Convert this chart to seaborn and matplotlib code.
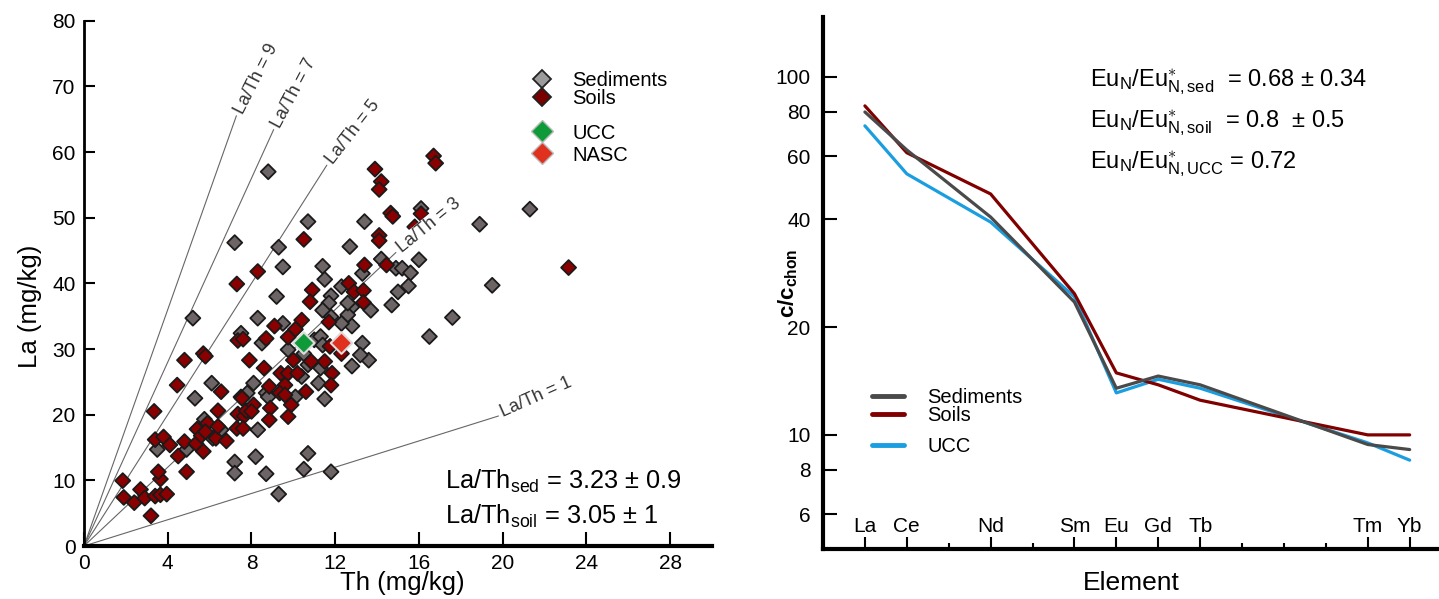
import numpy as np
import pandas as pd
import matplotlib
matplotlib.use("Agg")
import matplotlib.pyplot as plt
import seaborn as sns
from matplotlib.lines import Line2D
from matplotlib.ticker import NullLocator

sns.set_theme(style="white")
plt.rcParams["font.family"] = ["Liberation Sans", "DejaVu Sans"]
plt.rcParams["mathtext.fontset"] = "custom"
plt.rcParams["mathtext.rm"] = "Liberation Sans"
plt.rcParams["mathtext.it"] = "Liberation Sans:italic"
plt.rcParams["mathtext.bf"] = "Liberation Sans:bold"
for key in ["text.color", "axes.labelcolor", "xtick.color", "ytick.color"]:
    plt.rcParams[key] = "black"

# ---------------- data: left panel (Th vs La, mg/kg) ----------------
sed_th = [8.8, 7.2, 9.3, 9.5, 10.7, 11.4, 11.5, 11.8, 12.7, 13.3, 13.4, 14.2, 14.9, 15.2, 15.6, 15.5,
          15.0, 16.0, 16.0, 16.1, 18.9, 21.3, 19.5, 9.2, 12.3, 17.6, 14.7, 13.7, 12.8, 12.6, 16.5, 12.6,
          12.8, 12.3, 11.7, 11.8, 11.4, 13.3, 13.6, 13.2, 12.8, 11.0, 11.3, 11.4, 10.7, 11.3, 11.5, 5.2,
          8.3, 7.5, 8.5, 9.5, 6.1, 5.3, 8.1, 8.7, 9.75, 3.5, 4.9, 5.75, 6.15, 6.55, 7.2, 7.2, 8.2, 8.3,
          7.8, 8.7, 10.7, 10.5, 11.8, 9.3, 10.4, 10.5, 8.8, 10.1, 11.2]
sed_la = [57.0, 46.2, 45.5, 42.5, 49.4, 42.6, 40.6, 38.1, 45.6, 41.5, 49.4, 43.7, 42.3, 42.3, 41.6, 39.6,
          38.7, 43.6, 47.6, 51.4, 49.0, 51.3, 39.7, 38.0, 39.5, 34.8, 36.7, 35.9, 36.4, 35.2, 31.9, 37.0,
          33.5, 33.9, 37.0, 34.9, 35.9, 30.9, 28.3, 29.1, 27.4, 31.4, 31.9, 30.6, 27.6, 27.1, 22.4, 34.7,
          34.7, 32.4, 30.9, 33.9, 24.8, 22.5, 24.8, 23.3, 29.9, 14.7, 14.7, 19.3, 16.4, 17.7, 12.8, 11.1,
          13.6, 17.7, 23.3, 11.0, 14.1, 11.7, 11.3, 7.9, 25.8, 29.3, 22.7, 22.7, 24.8]
soil_th = [16.7, 16.8, 13.9, 14.2, 14.1, 14.65, 14.75, 16.1, 15.8, 14.1, 14.1, 10.5, 8.3, 7.3, 23.15,
           13.4, 14.45, 10.9, 12.65, 12.9, 13.35, 13.35, 11.7, 10.8, 11.75, 12.3, 11.5, 11.85, 11.8,
           10.85, 10.6, 10.4, 9.1, 8.7, 10.1, 9.75, 7.35, 7.6, 5.7, 4.8, 7.9, 8.6, 10.0, 9.4, 9.75, 10.2,
           4.45, 6.55, 7.5, 9.6, 9.35, 8.85, 1.85, 1.9, 2.4, 2.7, 2.9, 3.2, 3.4, 3.65, 3.95, 3.65, 3.55,
           3.35, 3.4, 3.8, 4.1, 4.5, 4.8, 4.9, 5.35, 5.4, 5.7, 5.6, 5.9, 5.8, 6.3, 6.4, 6.4, 6.8, 7.3,
           7.35, 7.65, 7.75, 7.55, 8.1, 8.0, 8.9, 8.85, 9.9, 9.75, 9.6, 7.6, 5.8]
soil_la = [59.4, 58.3, 57.4, 55.5, 54.3, 50.7, 50.2, 50.6, 48.6, 47.3, 46.5, 46.7, 41.8, 39.9, 42.4,
           42.8, 42.8, 39.0, 40.0, 38.7, 38.9, 37.1, 34.1, 37.2, 30.4, 29.3, 28.1, 26.3, 24.5,
           28.1, 23.5, 34.4, 33.5, 31.6, 33.0, 31.8, 31.3, 31.5, 29.3, 28.3, 28.3, 27.1, 28.3, 26.3, 26.3, 26.3,
           24.5, 23.5, 22.7, 24.5, 23.3, 24.3, 9.95, 7.4, 6.6, 8.6, 7.3, 4.6, 7.6, 7.8, 7.9, 10.2, 11.3,
           20.5, 16.2, 16.6, 15.4, 13.7, 15.9, 11.3, 15.6, 17.8, 14.4, 16.8, 18.7, 17.4, 16.4, 18.2, 20.6,
           16.0, 17.9, 20.1, 19.8, 20.6, 22.5, 21.5, 20.5, 21.0, 19.2, 21.5, 19.7, 23.0, 17.9, 28.9]
ref_names = ["UCC", "NASC"]
ref_th = [10.5, 12.3]
ref_la = [30.9, 30.9]
ratio_values = [9, 7, 5, 3, 1]
ratio_end_th = [7.28, 9.06, 11.6, 14.9, 19.8]
ratio_label_rot = [63, 62, 52, 39, 24]

# ---------------- data: right panel (chondrite-normalised REE) ----------------
all_elements = ["La", "Ce", "Pr", "Nd", "Pm", "Sm", "Eu", "Gd", "Tb", "Dy", "Ho", "Er", "Tm", "Yb"]
shown_elements = ["La", "Ce", "Nd", "Sm", "Eu", "Gd", "Tb", "Tm", "Yb"]
sed_ree = [79.8, 62.5, 40.6, 23.5, 13.5, 14.6, 13.8, 9.4, 9.1]
soil_ree = [83.0, 61.4, 47.1, 24.8, 14.9, 13.8, 12.5, 10.0, 10.0]
ucc_ree = [73.0, 53.6, 39.3, 24.3, 13.1, 14.3, 13.5, 9.5, 8.5]

W, H = 1439, 599
fig = plt.figure(figsize=(W / 100, H / 100), dpi=100)
fig.patch.set_facecolor("white")

def fx(px):
    return px / W

def fy(py):
    return 1 - py / H

TICK_FS = 15

# ================= left panel =================
ax1 = fig.add_axes([fx(84), fy(546), (712 - 84) / W, (546 - 20.7) / H])
ax1.set_facecolor("white")

df = pd.DataFrame({
    "Th": sed_th + soil_th,
    "La": sed_la + soil_la,
    "group": ["Sediments"] * len(sed_th) + ["Soils"] * len(soil_th),
})
for k, xe, rot in zip(ratio_values, ratio_end_th, ratio_label_rot):
    ax1.plot([0, xe], [0, k * xe], color="#666666", lw=0.8, zorder=1)
    ax1.annotate(f"La/Th = {k}", xy=(xe, k * xe), xytext=(2, 2), textcoords="offset points",
                 rotation=rot, rotation_mode="anchor", ha="left", va="center",
                 fontsize=13, color="#333333", zorder=4,
                 bbox=dict(facecolor="white", edgecolor="none", pad=0.2))

sns.scatterplot(data=df, x="Th", y="La", hue="group",
                palette={"Sediments": "#6d6466", "Soils": "#8a0000"},
                marker="D", s=58, edgecolor="#1a1a1a", linewidth=1.3, legend=False,
                ax=ax1, zorder=3)
dref = pd.DataFrame({"Th": ref_th, "La": ref_la, "name": ref_names})
sns.scatterplot(data=dref, x="Th", y="La", hue="name",
                palette={"UCC": "#0f9a3a", "NASC": "#e0301e"},
                marker="D", s=120, edgecolor="#dddddd", linewidth=1.5, legend=False,
                ax=ax1, zorder=5)

ax1.set_xlim(0, 30)
ax1.set_ylim(0, 80)
ax1.set_xticks(range(0, 29, 4))
ax1.set_yticks(range(0, 81, 10))
ax1.tick_params(axis="both", direction="in", labelsize=TICK_FS, color="black", width=1.5,
                bottom=True, left=True, top=False, right=False)
ax1.tick_params(axis="x", length=10, pad=6)
ax1.tick_params(axis="y", length=8, pad=6)
for s in ["top", "right"]:
    ax1.spines[s].set_visible(False)
ax1.spines["left"].set_linewidth(2.0)
ax1.spines["bottom"].set_linewidth(3.0)
for s in ["left", "bottom"]:
    ax1.spines[s].set_color("black")
ax1.set_xlabel("Th (mg/kg)", fontsize=18.5, labelpad=0)
ax1.set_ylabel("La (mg/kg)", fontsize=18.5)
ax1.yaxis.set_label_coords((30 - 84) / 628, (546 - 306) / 525.3)
ax1.xaxis.set_label_coords((402 - 84) / 628, -(583 - 546) / 525.3)
ax1.xaxis.label.set_va("center")
ax1.yaxis.label.set_va("center")

h_sed = Line2D([], [], ls="", marker="D", markersize=9.5, markerfacecolor="#9b9b9b",
               markeredgecolor="#222222", markeredgewidth=1.3)
h_soil = Line2D([], [], ls="", marker="D", markersize=9.5, markerfacecolor="#7a0000",
                markeredgecolor="#222222", markeredgewidth=1.3)
h_ucc = Line2D([], [], ls="", marker="D", markersize=11, markerfacecolor="#0f9a3a",
               markeredgecolor="#bbbbbb", markeredgewidth=1.0)
h_nasc = Line2D([], [], ls="", marker="D", markersize=11, markerfacecolor="#e0301e",
                markeredgecolor="#bbbbbb", markeredgewidth=1.0)
LEG_FS = 14.5
leg_kw = dict(loc="upper left", bbox_transform=fig.transFigure, frameon=False, fontsize=LEG_FS,
              handlelength=0.9, handletextpad=1.05, borderpad=0, borderaxespad=0)
leg1 = ax1.legend([h_sed, h_soil], ["Sediments", "Soils"], bbox_to_anchor=(fx(533), fy(71)),
                  labelspacing=-0.05, **leg_kw)
ax1.add_artist(leg1)
ax1.legend([h_ucc, h_nasc], ["UCC", "NASC"], bbox_to_anchor=(fx(533), fy(123.5)),
           labelspacing=0.15, **leg_kw)

fig.text(fx(445), fy(481), "La/Th$_{\\mathrm{sed}}$ = 3.23 ± 0.9", fontsize=18.3, va="center")
fig.text(fx(445), fy(516), "La/Th$_{\\mathrm{soil}}$ = 3.05 ± 1", fontsize=18.3, va="center")

# ================= right panel =================
ax2 = fig.add_axes([fx(823), fy(549), (1439 - 823) / W, (549 - 17) / H])
ax2.set_facecolor("white")
pos = {e: i for i, e in enumerate(all_elements)}
dree = pd.DataFrame({
    "x": [pos[e] for e in shown_elements] * 3,
    "value": sed_ree + soil_ree + ucc_ree,
    "series": ["Sediments"] * len(shown_elements) + ["Soils"] * len(shown_elements) + ["UCC"] * len(shown_elements),
})
ree_colors = {"Sediments": "#4a4a4a", "Soils": "#800000", "UCC": "#1a9ee0"}
sns.lineplot(data=dree, x="x", y="value", hue="series", palette=ree_colors,
             hue_order=["UCC", "Soils", "Sediments"], lw=2.3, legend=False, ax=ax2,
             sort=False, estimator=None)
ax2.set_yscale("log")
ax2.set_ylim(4.8, 147)
ax2.set_xlim(-1, 13.7)
yt = [6, 8, 10, 20, 40, 60, 80, 100]
ax2.set_yticks(yt)
ax2.set_yticklabels([str(v) for v in yt])
ax2.yaxis.set_minor_locator(NullLocator())
ax2.set_xticks([pos[e] for e in shown_elements])
ax2.set_xticklabels(shown_elements)
ax2.set_xticks([pos[e] for e in all_elements if e not in shown_elements], minor=True)
ax2.tick_params(axis="both", which="both", direction="in", color="black", width=1.5,
                labelsize=TICK_FS, bottom=True, left=True, top=False, right=False)
ax2.tick_params(axis="y", length=10, pad=9)
ax2.tick_params(axis="x", which="major", length=9, pad=-23)
ax2.tick_params(axis="x", which="minor", length=4)
for s in ["top", "right"]:
    ax2.spines[s].set_visible(False)
for s in ["left", "bottom"]:
    ax2.spines[s].set_linewidth(3.0)
    ax2.spines[s].set_color("black")
ax2.set_xlabel("Element", fontsize=19)
ax2.set_ylabel("$\\mathbf{c/c}_{\\mathbf{chon}}$", fontsize=16)
ax2.xaxis.set_label_coords(0.5, -(583 - 549) / 532)
ax2.yaxis.set_label_coords((788 - 823) / 616, (549 - 283) / 532)
ax2.xaxis.label.set_va("center")
ax2.yaxis.label.set_va("center")

lh = lambda c: Line2D([], [], color=c, lw=3.5)
leg_kw2 = dict(loc="upper left", bbox_transform=fig.transFigure, frameon=False, fontsize=LEG_FS,
               handlelength=1.6, handletextpad=1.15, borderpad=0, borderaxespad=0, labelspacing=-0.05)
legA = ax2.legend([lh(ree_colors["Sediments"]), lh(ree_colors["Soils"])], ["Sediments", "Soils"],
                  bbox_to_anchor=(fx(872), fy(388)), **leg_kw2)
ax2.add_artist(legA)
ax2.legend([lh(ree_colors["UCC"])], ["UCC"], bbox_to_anchor=(fx(872), fy(437)), **leg_kw2)

eu_lines = [
    ("sed", "  = 0.68 ± 0.34", 82),
    ("soil", "  = 0.8  ± 0.5", 123),
    ("UCC", " = 0.72", 164),
]
for sub, rest, py in eu_lines:
    fig.text(fx(1090), fy(py),
             "Eu$_{\\mathrm{N}}$/Eu$^{\\ast}_{\\mathrm{N," + sub + "}}$" + rest,
             fontsize=17, va="center")

fig.savefig("out.png", dpi=100, facecolor="white")
